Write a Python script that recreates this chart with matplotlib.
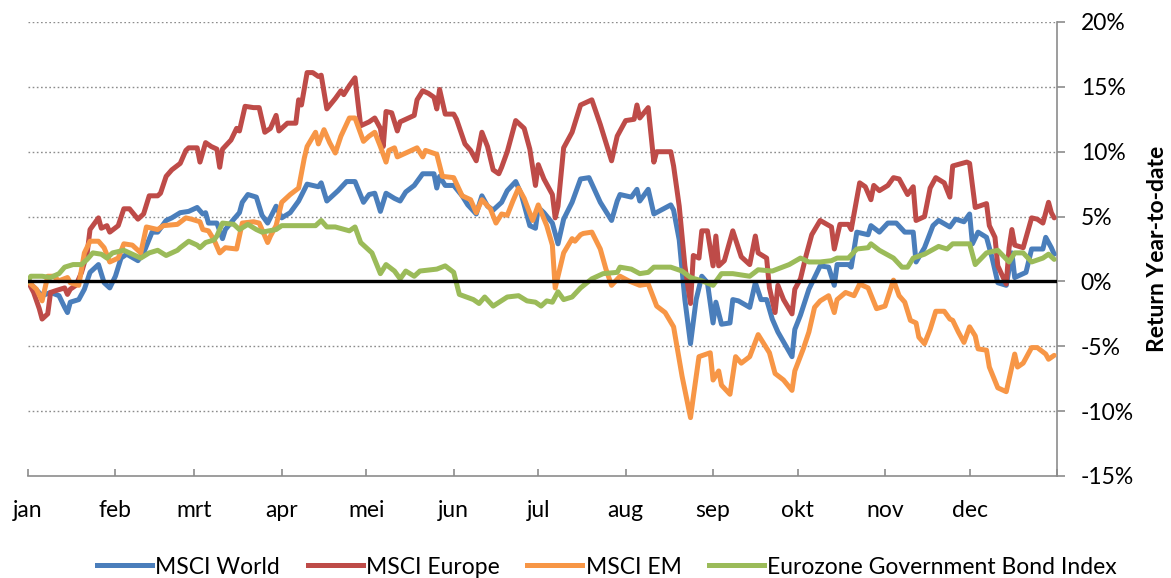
import matplotlib
matplotlib.use("Agg")
import matplotlib.pyplot as plt
import matplotlib.transforms as mtrans
from matplotlib.ticker import FuncFormatter, FixedLocator
from matplotlib.lines import Line2D

# ---- data (day of year, return YTD in %) ----
world_day = [0,5,8,11,13,14,15,18,20,22,25,27,29,31,33,35,39,41,44,46,49,51,54,57,60,62,63,64,67,69,
             70,73,75,76,78,81,83,85,88,90,93,96,99,101,103,104,106,110,113,116,119,121,123,125,127,130,132,134,137,140,
             144,145,146,148,151,154,156,159,161,163,165,168,170,173,175,178,180,181,183,186,188,190,193,196,199,203,207,209,210,214,
             216,217,220,222,228,229,231,233,235,237,239,241,243,244,246,249,250,252,256,258,260,262,264,266,271,272,274,277,281,284,
             286,287,291,292,294,298,299,302,305,308,311,314,315,318,321,323,327,329,332,334,335,337,340,342,344,347,349,350,354,356,
             360,361,363,364]
world_ret = [0,-1.1,-0.85,-1.1,-2.0,-2.4,-1.6,-1.4,-0.6,0.7,1.3,-0.1,-0.5,0.4,1.8,2.1,1.6,2.2,3.8,3.8,
             4.7,4.9,5.3,5.4,5.7,5.2,5.3,4.5,4.5,3.3,4.0,4.8,5.3,6.1,6.7,6.5,5.1,4.5,5.8,4.9,
             5.3,6.2,7.5,7.4,7.3,7.6,6.2,7.0,7.7,7.7,6.1,6.7,6.8,5.4,6.8,6.4,6.2,6.9,7.4,8.3,
             8.3,7.2,8.1,7.4,7.4,6.6,5.9,5.2,6.6,5.8,5.5,6.1,7.0,7.7,6.7,4.3,4.1,5.7,5.3,4.5,
             2.9,4.8,6.1,7.9,8.0,6.1,4.7,6.2,6.7,6.5,7.1,6.2,7.1,5.2,5.9,5.5,3.2,-1.4,-4.8,-1.4,
             0.4,-0.1,-3.2,-1.6,-3.3,-3.2,-1.4,-1.5,-2.0,-0.1,-1.4,-1.4,-2.9,-3.9,-5.8,-3.7,-2.6,-0.6,1.2,1.1,
             -0.3,1.3,1.3,1.1,3.8,3.6,4.3,3.8,4.5,4.5,3.8,3.8,1.5,2.6,4.3,4.7,4.2,4.8,4.6,5.2,
             2.9,3.8,3.4,1.8,-0.1,-0.3,2.2,0.3,0.7,2.5,2.5,3.4,2.6,2.1]

europe_day = [0,2,4,5,7,8,10,13,14,15,17,19,21,22,25,26,28,29,32,34,36,39,41,43,46,47,49,51,54,56,
              57,60,61,63,65,67,68,69,72,74,75,77,80,82,84,86,88,89,92,95,96,97,99,101,103,104,106,109,111,112,
              114,116,118,121,123,125,126,127,129,131,132,135,137,138,140,142,144,145,146,148,151,152,155,157,159,161,163,165,167,168,
              170,173,176,178,180,181,183,186,187,188,190,193,194,196,200,203,207,209,212,215,216,217,220,222,223,228,229,231,233,235,
              236,238,239,241,243,244,245,247,250,253,256,258,259,262,263,265,266,268,271,272,274,276,278,281,285,286,288,291,292,295,
              297,299,300,302,305,307,309,312,314,315,318,320,322,325,327,328,333,334,336,340,341,343,344,347,348,349,350,353,356,358,
              360,362,363,364]
europe_ret = [0,-0.85,-2.1,-2.9,-2.5,-0.85,-0.7,-0.5,-1.0,-0.6,-0.3,0.7,2.2,4.0,4.9,4.1,4.3,3.8,4.3,5.6,
              5.6,4.8,5.2,6.6,6.6,6.8,8.1,8.6,9.1,10.1,10.3,10.3,9.2,10.7,10.4,10.2,8.8,10.2,10.9,11.8,
              11.6,13.5,13.4,13.4,11.5,11.8,12.8,11.6,12.2,12.2,14.0,13.6,16.1,16.1,15.8,15.9,13.3,14.1,14.7,14.4,
              15.1,15.7,12.0,12.3,12.6,11.8,10.4,13.1,13.0,11.6,12.3,12.6,12.8,14.0,14.7,14.5,14.2,13.3,14.8,12.9,
              12.9,12.5,10.6,10.1,9.3,11.5,10.4,8.6,8.3,8.8,10.0,12.4,11.8,10.2,7.4,9.0,7.9,6.7,4.9,5.8,
              10.3,11.5,12.2,13.6,14.0,12.1,9.3,11.2,12.4,12.5,13.6,12.6,13.4,9.2,10.0,10.0,8.9,5.8,1.2,-1.7,
              2.0,1.8,3.9,3.9,1.2,3.5,1.2,1.6,3.9,1.9,1.3,3.5,2.2,1.8,-0.5,-2.4,-0.3,-1.4,-2.5,-0.6,
              0.2,2.0,3.6,4.7,4.2,2.5,4.4,4.4,4.0,7.6,7.3,6.3,7.4,7.0,7.4,8.0,7.9,6.7,7.3,4.7,
              5.0,7.2,8.0,7.6,6.5,8.9,9.2,9.1,5.7,6.0,4.3,3.4,1.2,-0.2,2.6,4.0,2.8,2.6,4.9,4.8,
              4.5,6.1,5.3,4.9]

em_day = [0,3,5,7,9,11,14,15,18,20,22,25,27,29,32,34,37,40,42,46,48,53,56,58,61,62,64,66,68,70,
          74,76,80,82,85,86,88,90,93,96,98,99,102,103,105,107,109,111,114,116,119,121,123,125,127,128,130,131,133,136,
          138,140,141,145,147,151,154,157,159,161,164,166,168,170,172,174,176,179,181,184,186,187,190,193,194,196,197,200,203,205,
          207,210,213,217,220,223,226,229,232,235,236,238,242,243,245,246,249,251,253,256,259,263,265,268,271,272,275,277,279,281,
          284,286,287,290,293,295,298,301,304,307,309,311,313,315,316,318,320,322,325,327,328,330,332,334,336,337,340,341,344,347,
          350,351,353,356,358,361,362,364]
em_ret = [0,-0.6,-1.5,0.4,0.4,0.05,0.3,-0.1,-0.3,2.2,3.1,3.1,2.6,1.5,1.8,2.9,2.8,2.2,4.2,4.0,
          4.3,4.4,4.9,4.8,4.6,4.0,3.9,3.2,2.2,2.6,2.5,4.5,4.6,4.5,3.0,3.5,4.3,6.1,6.7,7.2,
          9.5,10.4,11.5,10.6,11.7,10.7,9.9,11.2,12.6,12.6,10.8,11.2,11.5,10.4,9.2,10.1,10.3,9.6,9.8,10.1,
          10.3,9.6,10.1,9.8,8.1,8.0,6.6,6.3,5.3,6.3,5.6,4.5,5.2,5.1,6.2,7.2,6.4,4.7,5.9,4.3,
          2.8,-0.5,2.2,3.3,3.1,3.6,3.7,3.8,2.5,0.95,-0.3,0.4,0.05,-0.3,-0.2,-1.9,-2.4,-3.5,-7.3,-10.5,
          -8.9,-5.8,-5.5,-7.6,-6.9,-8.0,-8.7,-5.8,-6.3,-5.8,-4.1,-5.5,-7.1,-7.6,-8.4,-6.9,-5.2,-3.9,-2.0,-1.5,
          -1.1,-2.4,-1.4,-0.85,-1.1,-0.2,-0.5,-2.1,-1.9,0.1,-1.1,-1.6,-3.0,-3.2,-4.3,-4.8,-3.7,-2.3,-2.3,-2.9,
          -3.0,-3.9,-4.7,-3.5,-4.2,-5.2,-5.3,-6.6,-8.2,-8.5,-5.6,-6.6,-6.3,-5.1,-5.1,-5.6,-6.0,-5.7]

bond_day = [0,1,5,8,11,13,16,19,21,23,26,28,30,34,37,40,43,46,49,53,54,57,60,61,63,66,67,69,73,75,
            78,81,83,88,90,96,98,102,104,106,109,114,116,118,122,125,127,130,132,134,137,139,145,148,151,153,158,160,162,165,
            170,174,177,180,182,184,186,188,190,193,196,200,204,209,210,214,217,220,222,228,232,235,239,243,246,250,256,259,264,270,
            274,277,281,285,287,291,294,298,299,302,307,310,312,314,318,323,326,328,331,334,336,340,344,348,350,353,356,360,362,364]
bond_ret = [0,0.4,0.4,0.3,0.6,1.1,1.3,1.3,1.7,2.2,2.1,1.8,2.2,2.4,2.1,1.8,2.2,2.4,2.0,2.4,
            2.6,3.1,2.8,2.6,3.0,3.2,3.5,4.5,4.4,4.0,4.4,4.0,3.8,4.0,4.3,4.3,4.3,4.3,4.7,4.2,
            4.2,3.9,4.2,3.0,2.2,0.6,1.3,0.8,0.2,0.8,0.4,0.8,0.95,1.2,0.7,-1.0,-1.4,-1.7,-1.2,-1.9,
            -1.2,-1.1,-1.5,-1.6,-1.9,-1.5,-1.6,-0.8,-1.4,-1.2,-0.5,0.2,0.6,0.7,1.1,0.95,0.6,0.7,1.1,1.1,
            0.8,0.3,0.05,-0.3,0.6,0.6,0.4,0.9,0.8,1.3,1.8,1.5,1.5,1.6,1.8,1.8,2.5,2.6,2.9,2.4,
            1.8,1.1,1.1,1.8,2.1,2.7,2.5,2.9,2.9,2.9,1.3,2.2,2.4,1.5,2.2,2.2,1.5,1.8,2.1,1.7]

series_names = ["MSCI World", "MSCI Europe", "MSCI EM", "Eurozone Government Bond Index"]
series_colors = ["#4A7EBB", "#BE4B48", "#F79646", "#9BBB59"]

month_labels = ["jan", "feb", "mrt", "apr", "mei", "jun", "jul", "aug", "sep", "okt", "nov", "dec"]
month_start = [0, 31, 59, 90, 120, 151, 181, 212, 243, 273, 304, 334, 365]
y_ticks = [-15, -10, -5, 0, 5, 10, 15, 20]

# ---- figure ----
FONT = ["Lato", "DejaVu Sans"]
plt.rcParams["font.family"] = FONT
FS = 16.5
LW = 3.6

W, H = 1171, 578
fig = plt.figure(figsize=(W / 100, H / 100), dpi=100)
ax = fig.add_axes([28 / W, (H - 476) / H, 1029 / W, 454 / H])

for day, ret, name, col in zip([world_day, europe_day, em_day, bond_day],
                               [world_ret, europe_ret, em_ret, bond_ret],
                               series_names, series_colors):
    ax.plot(day, ret, color=col, lw=LW, label=name, solid_joinstyle="round",
            solid_capstyle="round", zorder=3)

ax.axhline(0, color="black", lw=2.4, zorder=4)

ax.set_xlim(0, 365)
ax.set_ylim(-15, 20)

# grid
for v in y_ticks:
    if v not in (-15, 0):
        ax.axhline(v, color="#8c8c8c", lw=1.0, ls=(0, (1.2, 1.8)), zorder=1)

for s in ["left", "top"]:
    ax.spines[s].set_visible(False)
for s in ["right", "bottom"]:
    ax.spines[s].set_color("#8c8c8c")
    ax.spines[s].set_linewidth(1.2)

ax.yaxis.tick_right()
ax.yaxis.set_major_locator(FixedLocator(y_ticks))
ax.yaxis.set_major_formatter(FuncFormatter(lambda v, p: f"{v:.0f}%"))
ax.tick_params(axis="y", direction="out", length=6, width=1.2, color="#8c8c8c",
               labelsize=FS, pad=11, labelcolor="black")

ax.xaxis.set_major_locator(FixedLocator(month_start))
ax.xaxis.set_major_formatter(FuncFormatter(lambda v, p: ""))
ax.tick_params(axis="x", direction="in", length=5, width=1.2, color="#8c8c8c")
label_tr = ax.get_xaxis_transform() + mtrans.ScaledTranslation(0, -24 / 100, fig.dpi_scale_trans)
for d, lab in zip(month_start[:-1], month_labels):
    ax.text(d, 0, lab, transform=label_tr, ha="center", va="top", fontsize=FS, clip_on=False)

fig.text(1158 / W, (H - 249) / H, "Return Year-to-date", rotation=90, ha="center", va="center",
         fontsize=FS, fontweight="bold")

handles = [Line2D([0], [0], color=c, lw=LW) for c in series_colors]
fig.legend(handles, series_names, loc="center", bbox_to_anchor=(607 / W, 11 / H),
           ncol=4, frameon=False, fontsize=FS, handlelength=2.4, handletextpad=0.15,
           columnspacing=1.2)

fig.savefig("out.png", dpi=100)
